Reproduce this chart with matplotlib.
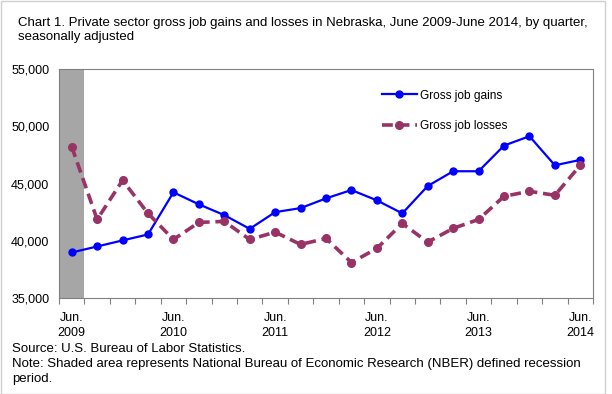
import matplotlib
matplotlib.use("Agg")
import matplotlib.pyplot as plt
import numpy as np

plt.rcParams["font.family"] = ["Liberation Sans", "DejaVu Sans"]

# quarterly data, Jun 2009 - Jun 2014
quarters = list(range(21))
gains = [38975, 39500, 40030, 40550, 44230, 43180, 42240, 41040, 42500, 42850,
         43700, 44430, 43530, 42390, 44780, 46070, 46070, 48310, 49130, 46590, 47060]
losses = [48220, 41860, 45280, 42390, 40110, 41600, 41690, 40110, 40750, 39680,
          40200, 38100, 39330, 41510, 39880, 41080, 41860, 43880, 44320, 43970, 46590]
year_labels = ["Jun.\n2009", "Jun.\n2010", "Jun.\n2011", "Jun.\n2012", "Jun.\n2013", "Jun.\n2014"]
year_pos = [0, 4, 8, 12, 16, 20]
recession = (-0.5, 0.5)

fig = plt.figure(figsize=(6.12, 3.94), dpi=100)
ax = fig.add_axes([59 / 612, 1 - 298 / 394, 534 / 612, 229 / 394])

ax.axvspan(*recession, color="#a6a6a6", lw=0, zorder=0)
ax.plot(quarters, gains, color="#0000ff", lw=1.6, marker="o", ms=5, label="Gross job gains", zorder=3)
ax.plot(quarters, losses, color="#993366", lw=2.6, ls=(0, (3, 1.6)), marker="o", ms=5.5,
        label="Gross job losses", zorder=3)

ax.set_xlim(-0.5, 20.5)
ax.set_ylim(35000, 55000)
ax.set_yticks(np.arange(35000, 55001, 5000))
ax.set_yticklabels([f"{v:,}" for v in range(35000, 55001, 5000)], fontsize=9)

# tick marks between quarters, labels at June quarters
ax.set_xticks(np.arange(-0.5, 21, 1))
ax.set_xticklabels([])
ax.tick_params(axis="x", which="major", length=4, color="#808080")
ax.set_xticks(year_pos, minor=True)
ax.set_xticklabels(year_labels, minor=True, fontsize=9, linespacing=1.35)
ax.tick_params(axis="x", which="minor", length=0, pad=10)
ax.tick_params(axis="y", length=0, pad=7)

for s in ax.spines.values():
    s.set_color("#808080")

ax.legend(loc="upper left", bbox_to_anchor=(0.584, 0.957), frameon=False, fontsize=8.6,
          labelspacing=1.55, handlelength=2.94, handletextpad=0.3)

t1 = fig.text(18 / 612, 1 - 23 / 394,
              "Chart 1. Private sector gross job gains and losses in Nebraska, June 2009-June 2014, by quarter,",
              fontsize=9, va="center", ha="left")
t2 = fig.text(18 / 612, 1 - 37 / 394, "seasonally adjusted", fontsize=9, va="center", ha="left")
t3 = fig.text(12 / 612, 1 - 349 / 394, "Source: U.S. Bureau of Labor Statistics.", fontsize=9, va="center")
t4 = fig.text(12 / 612, 1 - 364 / 394,
              "Note: Shaded area represents National Bureau of Economic Research (NBER) defined recession",
              fontsize=9, va="center")
t5 = fig.text(12 / 612, 1 - 379 / 394, "period.", fontsize=9, va="center")

# size the text lines to the widths they take in the original chart
fig.canvas.draw()
r = fig.canvas.get_renderer()
fs_title = 9 * 573 / t1.get_window_extent(r).width
fs_note = 9 * 571 / t4.get_window_extent(r).width
for t in (t1, t2):
    t.set_fontsize(fs_title)
for t in (t3, t4, t5):
    t.set_fontsize(fs_note)

fig.patches.append(plt.Rectangle((0.5 / 612, 0.5 / 394), 1 - 8 / 612, 1 - 1.5 / 394, transform=fig.transFigure,
                                 fill=False, ec="#d0d0d0", lw=1))

fig.savefig("out.png", dpi=100)
